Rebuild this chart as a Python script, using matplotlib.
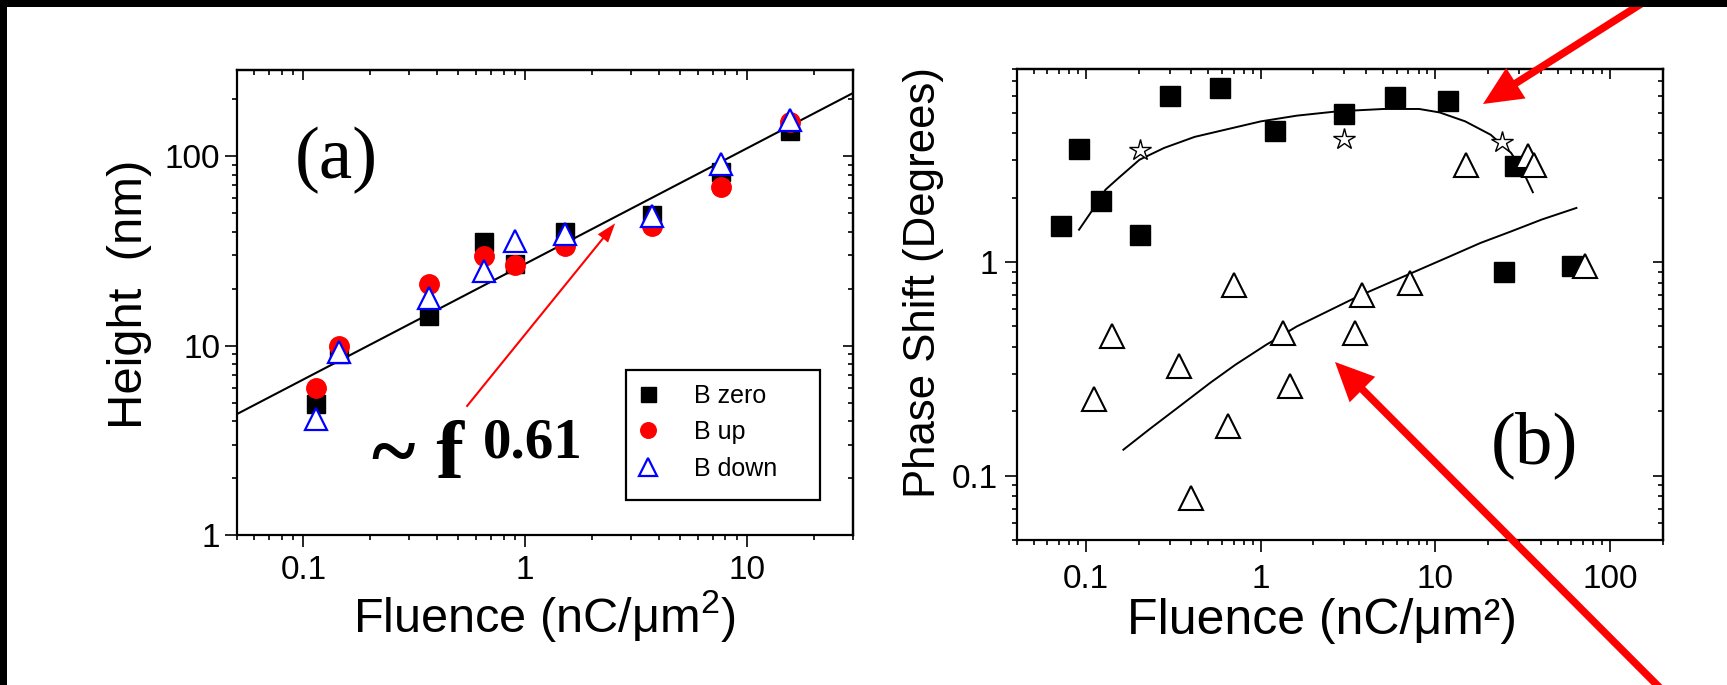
import numpy as np
import matplotlib
matplotlib.use("Agg")
import matplotlib.pyplot as plt
from matplotlib.patches import Rectangle, FancyArrowPatch
from matplotlib.ticker import LogLocator, NullFormatter, FixedLocator

plt.rcParams['font.family'] = ['Liberation Sans', 'DejaVu Sans']
plt.rcParams['mathtext.fontset'] = 'custom'
plt.rcParams['mathtext.rm'] = 'Liberation Sans'
plt.rcParams['mathtext.it'] = 'Liberation Sans:italic'
plt.rcParams['mathtext.bf'] = 'Liberation Sans:bold'

# ---------------- data: (a) bump height vs fluence ----------------
fluence_a = [0.114, 0.144, 0.368, 0.651, 0.90, 1.51, 3.72, 7.65, 15.6]
height_zero = [4.9, 9.0, 14.4, 35.1, 27.0, 39.6, 49.2, 82.3, 136]
height_up = [6.0, 10.0, 21.1, 29.8, 26.7, 33.7, 43.0, 68.6, 151]
height_down = [4.08, 9.2, 17.9, 24.8, 35.8, 38.8, 48.5, 90.4, 154.6]
fit_coef = 27.0
fit_exponent = 0.61
fit_range = (0.05, 30)

# ---------------- data: (b) phase shift vs fluence ----------------
fluence_sq = [0.0714, 0.091, 0.122, 0.202, 0.303, 0.586, 1.20, 2.98, 5.88, 11.8, 28.4, 24.6, 60.7]
phase_sq = [1.48, 3.38, 1.92, 1.34, 6.0, 6.52, 4.12, 4.93, 5.89, 5.65, 2.80, 0.894, 0.96]
fluence_star = [0.202, 2.98, 24.0]
phase_star = [3.35, 3.76, 3.63]
fluence_tri = [15.0, 33.8, 36.5, 71.8, 0.703, 3.80, 7.19, 0.141, 1.34, 3.48, 0.338, 0.111, 1.46, 0.646, 0.399]
phase_tri = [2.85, 3.14, 2.85, 0.953, 0.783, 0.703, 0.797, 0.449, 0.466, 0.466, 0.325, 0.228, 0.262, 0.170, 0.0787]

upper_curve_x = [0.091, 0.109, 0.129, 0.153, 0.202, 0.280, 0.418, 0.626, 1.00, 1.61, 2.75,
                 5.04, 8.07, 10.56, 14.8, 20.7, 27.1, 32.0, 36.1]
upper_curve_y = [1.416, 1.757, 2.18, 2.47, 3.01, 3.42, 3.85, 4.16, 4.55, 4.84, 5.07,
                 5.20, 5.20, 5.01, 4.55, 3.94, 3.24, 2.61, 2.12]
lower_curve_x = [0.1633, 0.2286, 0.342, 0.512, 0.716, 1.074, 1.607, 2.405, 3.60, 5.39,
                 8.07, 12.08, 18.07, 27.1, 40.6, 64.1]
lower_curve_y = [0.1323, 0.1642, 0.211, 0.2716, 0.3307, 0.410, 0.4995, 0.587, 0.690, 0.797,
                 0.920, 1.062, 1.227, 1.39, 1.58, 1.79]

xticks_a = [0.1, 1, 10]
yticks_a = [1, 10, 100]
xticks_b = [0.1, 1, 10, 100]
yticks_b = [0.1, 1]

# ---------------- figure layout (pixel based) ----------------
W, H = 1727, 685
fig = plt.figure(figsize=(W / 100, H / 100), dpi=100)
fig.patch.set_facecolor('white')


def rect(l, t, r, b):
    return [l / W, 1 - b / H, (r - l) / W, (b - t) / H]


def fp(x, y):
    return (x / W, 1 - y / H)


A_BOX = (236.7, 70, 852.7, 535)
ax_a = fig.add_axes(rect(*A_BOX))
ax_b = fig.add_axes(rect(1016.7, 69, 1662.7, 540))


def ax_frac(ax_box, x, y):
    l, t, r, b = ax_box
    return ((x - l) / (r - l), (b - y) / (b - t))


def style(ax, xlim, ylim, xticks, yticks, xpad, ypad):
    ax.set_xscale('log')
    ax.set_yscale('log')
    ax.set_xlim(*xlim)
    ax.set_ylim(*ylim)
    ax.set_xticks(xticks, labels=[f'{t:g}' for t in xticks])
    ax.set_yticks(yticks, labels=[f'{t:g}' for t in yticks])
    for axis in (ax.xaxis, ax.yaxis):
        axis.set_minor_locator(LogLocator(base=10, subs=np.arange(2, 10), numticks=50))
        axis.set_minor_formatter(NullFormatter())
    ax.tick_params(which='both', direction='out', top=False, right=False,
                   width=1.2, color='black')
    ax.tick_params(which='major', length=8.6)
    ax.tick_params(which='minor', length=3.8)
    ax.tick_params(axis='x', pad=xpad, labelsize=24)
    ax.tick_params(axis='y', pad=ypad, labelsize=24)
    for s in ax.spines.values():
        s.set_linewidth(1.6)
    # inward ticks on the top and right frame
    top = ax.secondary_xaxis('top')
    top.xaxis.set_major_locator(FixedLocator(xticks))
    top.xaxis.set_minor_locator(LogLocator(base=10, subs=np.arange(2, 10), numticks=50))
    top.xaxis.set_major_formatter(NullFormatter())
    top.xaxis.set_minor_formatter(NullFormatter())
    top.tick_params(which='both', direction='in', width=1.2)
    top.tick_params(which='major', length=7.5)
    top.tick_params(which='minor', length=3.8)
    top.spines['top'].set_linewidth(1.6)
    right = ax.secondary_yaxis('right')
    right.yaxis.set_major_locator(FixedLocator(yticks))
    right.yaxis.set_minor_locator(LogLocator(base=10, subs=np.arange(2, 10), numticks=50))
    right.yaxis.set_major_formatter(NullFormatter())
    right.yaxis.set_minor_formatter(NullFormatter())
    right.tick_params(which='both', direction='in', width=1.2)
    right.tick_params(which='major', length=7.5)
    right.tick_params(which='minor', length=3.8)
    right.spines['right'].set_linewidth(1.6)


style(ax_a, (0.05, 30), (1, 285), xticks_a, yticks_a, 6.0, 3.4)
style(ax_b, (0.04, 200), (0.05, 8), xticks_b, yticks_b, 9.0, 4.8)

# ---------------- panel (a) ----------------
fx = np.geomspace(*fit_range, 60)
ax_a.plot(fx, fit_coef * fx ** fit_exponent, color='black', lw=1.5, zorder=2)
ax_a.plot(fluence_a, height_zero, ls='none', marker='s', ms=13.5, color='black',
          label='B zero', zorder=3)
ax_a.plot(fluence_a, height_up, ls='none', marker='o', ms=14, color='red',
          label='B up', zorder=4)
ax_a.plot(fluence_a, height_down, ls='none', marker='^', ms=15.5, mfc='white',
          mec='blue', mew=1.6, label='B down', zorder=5)

# legend entries, with a separately drawn box around them
leg = ax_a.legend(loc='center left', bbox_to_anchor=ax_frac(A_BOX, 635, 432),
                  frameon=False, fontsize=18, handlelength=1.0, handletextpad=1.35,
                  borderpad=0, labelspacing=0.5, borderaxespad=0, markerscale=0.8)
bx0, by0 = ax_frac(A_BOX, 626, 500)
bx1, by1 = ax_frac(A_BOX, 820, 370)
ax_a.add_patch(Rectangle((bx0, by0), bx1 - bx0, by1 - by0, transform=ax_a.transAxes,
                         fill=False, ec='black', lw=1.6, zorder=6))

fig.text(*fp(129, 294), 'Height  (nm)', rotation=90, ha='center', va='center', fontsize=35.3)
fig.text(*fp(544, 632), 'Fluence (nC/μm$^{2}$)', ha='center', va='baseline', fontsize=35)

fig.text(*fp(336, 160), '(a)', family='Liberation Serif', fontsize=54, ha='center', va='center')
fig.text(*fp(372, 478), '~ f', family='Liberation Serif', weight='bold', fontsize=60,
         ha='left', va='baseline')
fig.text(*fp(483, 457), '0.61', family='Liberation Serif', weight='bold', fontsize=41,
         ha='left', va='baseline')

# ---------------- panel (b) ----------------
ax_b.plot(upper_curve_x, upper_curve_y, color='black', lw=1.4, zorder=2)
ax_b.plot(lower_curve_x, lower_curve_y, color='black', lw=1.4, zorder=2)
ax_b.plot(fluence_sq, phase_sq, ls='none', marker='s', ms=15, color='black', zorder=3)
ax_b.plot(fluence_star, phase_star, ls='none', marker='*', ms=16, mfc='white',
          mec='black', mew=1.0, zorder=4)
ax_b.plot(fluence_tri, phase_tri, ls='none', marker='^', ms=17, mfc='white',
          mec='black', mew=1.5, zorder=5)

fig.text(*fp(923, 283), 'Phase Shift (Degrees)', rotation=90, ha='center', va='center',
         fontsize=31.5)
fig.text(*fp(1322, 634), 'Fluence (nC/μm²)', ha='center', va='baseline', fontsize=36)
fig.text(*fp(1534, 445), '(b)', family='Liberation Serif', fontsize=54, ha='center', va='center')

# ---------------- red arrows ----------------
thin = FancyArrowPatch(fp(466.5, 406.7), fp(615.2, 223.3), transform=fig.transFigure,
                       arrowstyle='simple,tail_width=0.15,head_width=0.95,head_length=1.4',
                       mutation_scale=10, color='red', lw=0, shrinkA=0, shrinkB=0, zorder=10)
fig.add_artist(thin)
for tail, tip in [((1663, -10), (1483, 104)), ((1670, 698), (1335, 362))]:
    arr = FancyArrowPatch(fp(*tail), fp(*tip), transform=fig.transFigure,
                          arrowstyle='simple,tail_width=0.27,head_width=1.3,head_length=1.4',
                          mutation_scale=20, color='red', lw=0, shrinkA=0, shrinkB=0,
                          zorder=10)
    fig.add_artist(arr)

# dark frame along the top and left edge
fig.add_artist(Rectangle((0, 1 - 7 / H), 1, 7 / H, transform=fig.transFigure,
                         color='black', lw=0, zorder=20))
fig.add_artist(Rectangle((0, 0), 7 / W, 1, transform=fig.transFigure,
                         color='black', lw=0, zorder=20))

fig.savefig('out.png', dpi=100)
